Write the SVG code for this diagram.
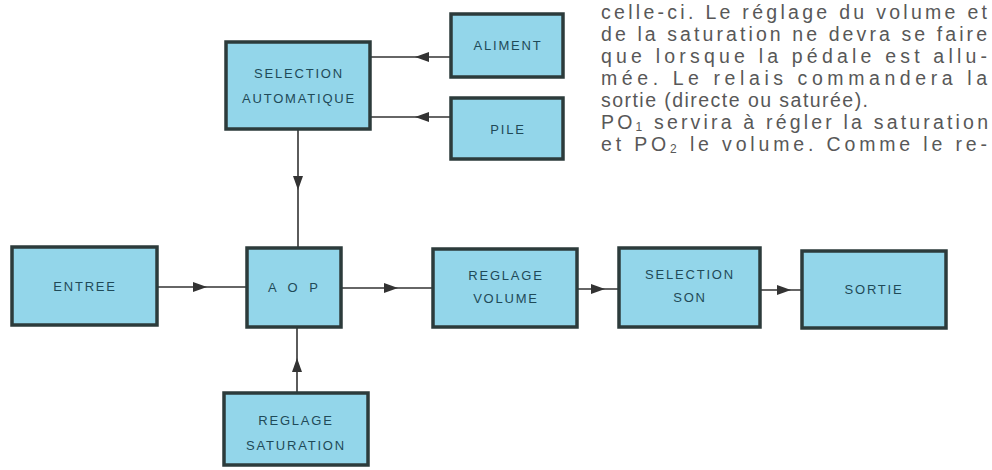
<svg xmlns="http://www.w3.org/2000/svg" width="992" height="470" viewBox="0 0 992 470">
<defs>
<style>
.box{fill:#93d6ea;stroke:#2c3b3b;stroke-width:3.5}
.lbl{font-family:"Liberation Sans",Arial,sans-serif;font-size:13px;fill:#1f4a58;letter-spacing:1.8px;text-anchor:middle}
.con{fill:none;stroke:#333;stroke-width:1.6}
.para{font-family:"Liberation Sans",Arial,sans-serif;font-size:19.5px;fill:#585858}
</style>
<marker id="ah" viewBox="0 0 14 10" refX="14" refY="5" markerWidth="14" markerHeight="10" markerUnits="userSpaceOnUse" orient="auto">
<path d="M0,0 L14,5 L0,10 Z" fill="#333"/>
</marker>
</defs>
<rect width="992" height="470" fill="#fff"/>
<g id="connectors">
<path class="con" d="M451,57 L415,57 L370,57" marker-mid="url(#ah)"/>
<path class="con" d="M451,117 L415,117 L370,117" marker-mid="url(#ah)"/>
<path class="con" d="M298,129 L298,190 L298,248" marker-mid="url(#ah)"/>
<path class="con" d="M157,287 L207,287 L247,287" marker-mid="url(#ah)"/>
<path class="con" d="M341,288 L398,288 L433,288" marker-mid="url(#ah)"/>
<path class="con" d="M577,289 L605,289 L619,289" marker-mid="url(#ah)"/>
<path class="con" d="M760,290 L791,290 L802,290" marker-mid="url(#ah)"/>
<path class="con" d="M297,393 L297,358 L297,327" marker-mid="url(#ah)"/>
</g>
<g id="sel_auto"><rect class="box" x="226" y="42" width="144" height="87"/><text class="lbl" x="299" y="78">SELECTION</text><text class="lbl" x="299" y="103">AUTOMATIQUE</text></g>
<g id="aliment"><rect class="box" x="451" y="14" width="112" height="63"/><text class="lbl" x="508" y="50">ALIMENT</text></g>
<g id="pile"><rect class="box" x="451" y="98" width="112" height="61"/><text class="lbl" x="508" y="134">PILE</text></g>
<g id="entree"><rect class="box" x="12" y="247" width="145" height="78"/><text class="lbl" x="85" y="291">ENTREE</text></g>
<g id="aop"><rect class="box" x="247" y="248" width="94" height="79"/><text class="lbl" x="295" y="292" style="letter-spacing:4px">A O P</text></g>
<g id="reglage_volume"><rect class="box" x="433" y="249" width="144" height="78"/><text class="lbl" x="506" y="280">REGLAGE</text><text class="lbl" x="506" y="303">VOLUME</text></g>
<g id="selection_son"><rect class="box" x="619" y="248" width="141" height="79"/><text class="lbl" x="690" y="279">SELECTION</text><text class="lbl" x="690" y="302">SON</text></g>
<g id="sortie"><rect class="box" x="802" y="251" width="144" height="77"/><text class="lbl" x="874" y="294">SORTIE</text></g>
<g id="reglage_saturation"><rect class="box" x="224" y="393" width="144" height="72"/><text class="lbl" x="296" y="425">REGLAGE</text><text class="lbl" x="296" y="450">SATURATION</text></g>
<g id="paragraph" class="para">
<text x="601" y="19" textLength="386" lengthAdjust="spacing">celle-ci. Le réglage du volume et</text>
<text x="601" y="41" textLength="386" lengthAdjust="spacing">de la saturation ne devra se faire</text>
<text x="601" y="63" textLength="386" lengthAdjust="spacing">que lorsque la pédale est allu-</text>
<text x="601" y="85" textLength="386" lengthAdjust="spacing">mée. Le relais commandera la</text>
<text x="601" y="107" textLength="267" lengthAdjust="spacing">sortie (directe ou saturée).</text>
<text x="601" y="129" textLength="387" lengthAdjust="spacing">PO<tspan font-size="12" dy="2">1</tspan><tspan dy="-2"> servira à régler la saturation</tspan></text>
<text x="601" y="151" textLength="386" lengthAdjust="spacing">et PO<tspan font-size="12" dy="2">2</tspan><tspan dy="-2"> le volume. Comme le re-</tspan></text>
</g>
</svg>
